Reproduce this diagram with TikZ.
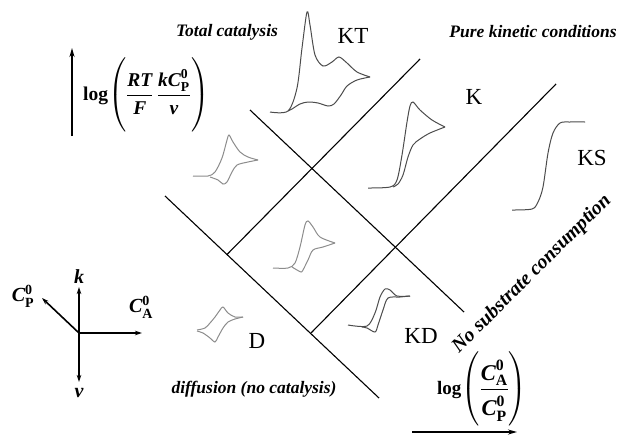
\documentclass[tikz,border=0pt]{standalone}
\usepackage{amsmath}
\usepackage{fontspec}
\setmainfont{Liberation Serif}
\usetikzlibrary{arrows.meta}
\newcommand{\bit}[1]{\text{\bfseries\itshape #1}}
\newcommand{\bup}[1]{\text{\bfseries #1}}

\begin{document}
\begin{tikzpicture}[x=1pt,y=-1pt,
  region/.style={line width=1.1pt},
  axis/.style={line width=2.2pt,-{Stealth[length=9pt,width=5pt]}},
  smallaxis/.style={line width=1.6pt,-{Stealth[length=7pt,width=4.5pt]}},
  cvdark/.style={black!70,line width=1pt},
  cvlight/.style={black!45,line width=1pt},
  lab/.style={font=\fontsize{23}{27}\selectfont},
  zone/.style={font=\fontsize{17.5}{21}\selectfont\bfseries\itshape},
  small/.style={font=\fontsize{20}{24}\selectfont}]
\useasboundingbox (0,0) rectangle (620,437);

\coordinate (a1) at (250,110); \coordinate (a2) at (464,312);
\coordinate (b1) at (165,196); \coordinate (b2) at (379,398);
\coordinate (c1) at (227,254.5); \coordinate (c2) at (420,59);
\coordinate (d1) at (311,333); \coordinate (d2) at (556,84);
\draw[region] (a1) -- (a2);
\draw[region] (b1) -- (b2);
\draw[region] (c1) -- (c2);
\draw[region] (d1) -- (d2);

\draw[cvdark] plot[smooth,tension=0.5] coordinates {(270,112) (288,111) (297,88) (302,48) (307,12) (310,25) (315,55) (323,66) (332,62) (339,57) (347,63) (357,72) (370,77)};
\draw[cvdark] plot[smooth,tension=0.5] coordinates {(370,77) (357,80) (347,86) (341,95) (334,104) (328,106) (318,103) (308,102) (300,104) (292,109) (288,111)};
\draw[cvdark] plot[smooth,tension=0.5] coordinates {(368,188) (390,187) (397,180) (402,155) (407,122) (410,106) (413,102) (420,110) (432,120) (445,127)};
\draw[cvdark] plot[smooth,tension=0.5] coordinates {(445,127) (430,133) (420,139) (413,145) (408,157) (403,175) (398,184) (393,187)};
\draw[cvdark] plot[smooth,tension=0.5] coordinates {(512,210) (532,209) (538,202) (543,187) (548,153) (553,133) (560,123) (570,122) (585,122)};
\draw[cvdark] plot[smooth,tension=0.5] coordinates {(348,325) (367,326) (375,313) (380,297) (385,289) (390,290) (397,296) (410,296)};
\draw[cvdark] plot[smooth,tension=0.5] coordinates {(410,296) (400,297) (388,298) (383,310) (378,325) (375,332) (367,328) (362,327)};
\draw[cvlight] plot[smooth,tension=0.5] coordinates {(193,176) (208,176) (215,172) (222,158) (227,140) (229,135) (233,142) (240,152) (248,157) (258,160)};
\draw[cvlight] plot[smooth,tension=0.5] coordinates {(258,160) (248,162) (237,165) (232,172) (227,182) (223,184) (218,180) (210,177)};
\draw[cvlight] plot[smooth,tension=0.5] coordinates {(273,268) (288,268) (295,263) (300,247) (305,225) (308,221) (313,227) (320,237) (335,243)};
\draw[cvlight] plot[smooth,tension=0.5] coordinates {(335,243) (323,247) (313,250) (308,260) (303,270) (301,272) (297,270) (292,267)};
\draw[cvlight] plot[smooth,tension=0.5] coordinates {(197,330) (205,328) (210,323) (215,317) (220,310) (223,307) (228,313) (235,317) (243,317)};
\draw[cvlight] plot[smooth,tension=0.5] coordinates {(243,317) (235,319) (228,322) (223,328) (218,337) (215,342) (210,338) (203,333) (197,331)};

\node[zone] (total) at (227,32) {Total catalysis};
\node[zone] (pure) at (533,32) {Pure kinetic conditions};
\node[zone] (diff) at (254,389) {diffusion (no catalysis)};
\node[zone,font=\fontsize{20}{24}\selectfont\bfseries\itshape,rotate=45] (nosub) at (532,274) {No substrate consumption};
\node[lab] (KT) at (353,36) {KT};
\node[lab] (K) at (474,97) {K};
\node[lab] (KS) at (592,158) {KS};
\node[lab] (D) at (257,341) {D};
\node[lab] (KD) at (421,336) {KD};

\coordinate (y0) at (72,136); \coordinate (y1) at (72,48);
\draw[axis] (y0) -- (y1);
\node[anchor=west,font=\fontsize{19.5}{23}\selectfont,inner sep=0] (ylab) at (83,95) {$\bup{log}\!\left(\rule[-32pt]{0pt}{72pt}\dfrac{\bit{RT}}{\bit{F}}\,\dfrac{\bit{kC}^{\bup{0}}_{\bup{P}}}{\bit{v}}\right)$};
\coordinate (x0) at (412,432); \coordinate (x1) at (517,432);
\draw[axis] (x0) -- (x1);
\node[anchor=west,font=\fontsize{22.5}{27}\selectfont,inner sep=0] (xlab) at (437,389) {$\text{\fontsize{19}{23}\selectfont\bfseries log}\!\left(\rule[-32pt]{0pt}{73pt}\dfrac{\bit{C}^{\bup{0}}_{\bup{A}}\rule[-4pt]{0pt}{0pt}}{\bit{C}^{\bup{0}}_{\bup{P}}\rule{0pt}{24pt}}\right)$};

\coordinate (o) at (79,333);
\coordinate (ok) at (79,287); \coordinate (ov) at (79,382);
\coordinate (oa) at (142,333); \coordinate (op) at (42,298);
\draw[smallaxis] (o) -- (ok);
\draw[smallaxis] (o) -- (ov);
\draw[smallaxis] (o) -- (oa);
\draw[smallaxis] (o) -- (op);
\node[small] (klab) at (79,277) {\bfseries\itshape k};
\node[small] (vlab) at (79,393) {\bfseries\itshape v};
\node[small] (calab) at (141,307) {$\bit{C}^{\bup{0}}_{\bup{A}}$};
\node[small] (cplab) at (23,296) {$\bit{C}^{\bup{0}}_{\bup{P}}$};
\end{tikzpicture}
\end{document}
